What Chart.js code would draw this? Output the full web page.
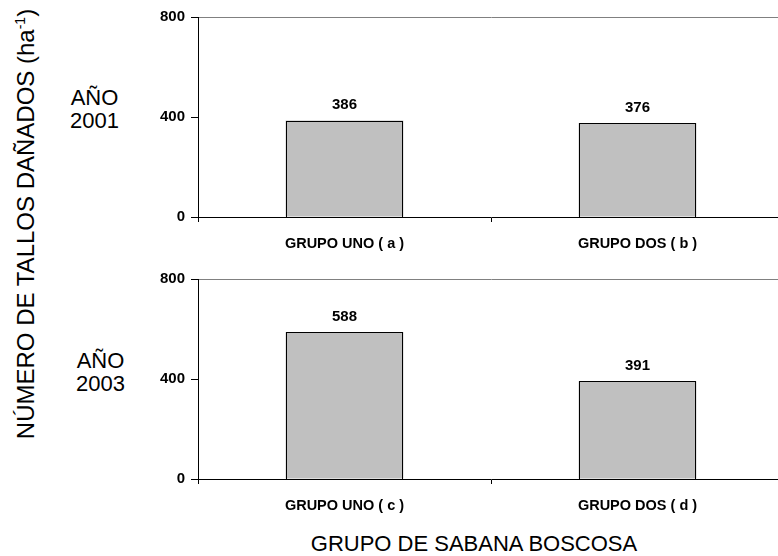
<!DOCTYPE html>
<html>
<head>
<meta charset="utf-8">
<script src="https://cdn.jsdelivr.net/npm/chart.js@4"></script>
<style>
  html, body { margin: 0; padding: 0; background: #fff; overflow: hidden; }
  body { width: 778px; height: 556px; position: relative; font-family: "Liberation Sans", Arial, sans-serif; color: #000; }
  .panel { position: absolute; left: 150px; }
  .lbl { position: absolute; font-size: 22px; line-height: 23px; text-align: center; white-space: nowrap; }
  #ytitle { left: 25px; top: 224px; font-size: 24px; transform: translate(-50%, -50%) rotate(-90deg); }
  #ytitle sup { font-size: 14px; vertical-align: 9px; line-height: 0; }
  #xtitle { left: 474px; top: 532px; transform: translateX(-50%); }
</style>
</head>
<body>
<div class="lbl" id="ytitle">NÚMERO DE TALLOS DAÑADOS (ha<sup>-1</sup>)</div>
<div class="lbl" style="left:70px; top:86px;">AÑO<br>2001</div>
<div class="lbl" style="left:76px; top:349px;">AÑO<br>2003</div>
<div class="lbl" id="xtitle">GRUPO DE SABANA BOSCOSA</div>

<div class="panel" style="top:0px;"><canvas id="c2001" width="640" height="260"></canvas></div>
<div class="panel" style="top:262px;"><canvas id="c2003" width="640" height="260"></canvas></div>

<script>
const groups2001 = ['GRUPO UNO ( a )', 'GRUPO DOS ( b )'];
const values2001 = [386, 376];
const groups2003 = ['GRUPO UNO ( c )', 'GRUPO DOS ( d )'];
const values2003 = [588, 391];
const yTicks = [0, 400, 800];

const FONT = '"Liberation Sans", Arial, sans-serif';

// crisp black outline around each bar plus its value above it
const barDecor = {
  id: 'barDecor',
  afterDatasetsDraw(chart) {
    const ctx = chart.ctx;
    const meta = chart.getDatasetMeta(0);
    ctx.save();
    ctx.strokeStyle = '#000';
    ctx.lineWidth = 1;
    meta.data.forEach(function (bar) {
      const l = Math.round(bar.x - bar.width / 2) + 0.5;
      const r = Math.round(bar.x + bar.width / 2) - 0.5;
      const t = Math.round(bar.y) + 0.5;
      const b = Math.round(bar.base) + 0.5;
      ctx.strokeRect(l, t, r - l, b - t);
    });
    ctx.font = 'bold 15px ' + FONT;
    ctx.fillStyle = '#000';
    ctx.textAlign = 'center';
    ctx.textBaseline = 'bottom';
    meta.data.forEach(function (bar, i) {
      ctx.fillText(chart.data.datasets[0].data[i], bar.x, bar.y - 8);
    });
    ctx.restore();
  }
};

function makePanel(id, labels, values) {
  return new Chart(document.getElementById(id), {
    type: 'bar',
    data: {
      labels: labels,
      datasets: [{
        data: values,
        backgroundColor: '#C0C0C0',
        borderWidth: 0,
        barPercentage: 0.402,
        categoryPercentage: 1
      }]
    },
    options: {
      responsive: false,
      animation: false,
      layout: { padding: { top: 17, right: 6, left: 0, bottom: 0 } },
      plugins: { legend: { display: false }, tooltip: { enabled: false } },
      scales: {
        x: {
          grid: { offset: true, drawOnChartArea: false, drawTicks: true, tickLength: 5, tickColor: '#000' },
          border: { color: '#000', width: 1 },
          ticks: { color: '#000', padding: 13, maxRotation: 0, font: { family: FONT, size: 14.5, weight: 'bold' } },
          afterFit(scale) { scale.height = 43; }
        },
        y: {
          min: 0,
          max: 800,
          afterBuildTicks(scale) { scale.ticks = yTicks.map(v => ({ value: v })); },
          grid: {
            drawOnChartArea: true,
            color: c => (c.tick && c.tick.value === 800) ? '#808080' : 'rgba(0,0,0,0)',
            tickColor: '#000',
            tickLength: 7
          },
          border: { color: '#000', width: 1 },
          ticks: { color: '#000', padding: 6, font: { family: FONT, size: 15, weight: 'bold' } },
          afterFit(scale) { scale.width = 48; }
        }
      }
    },
    plugins: [barDecor]
  });
}

makePanel('c2001', groups2001, values2001);
makePanel('c2003', groups2003, values2003);
</script>
</body>
</html>
